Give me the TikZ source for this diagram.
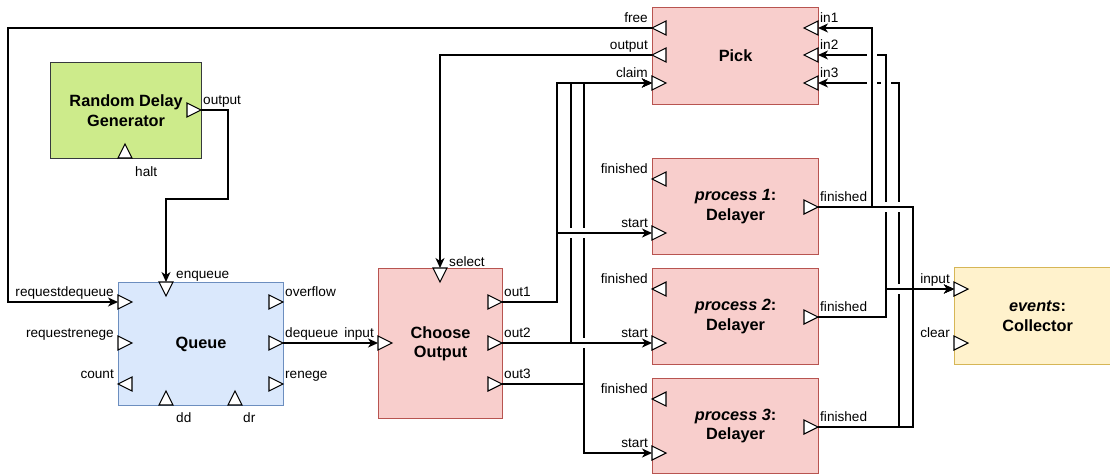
\documentclass[tikz,border=0pt]{standalone}
\usepackage{fontspec}
\setmainfont{Liberation Sans}
\usetikzlibrary{arrows.meta}
\definecolor{gfill}{HTML}{CDEB8B}
\definecolor{gdraw}{HTML}{36393D}
\definecolor{bfill}{HTML}{DAE8FC}
\definecolor{bdraw}{HTML}{6C8EBF}
\definecolor{rfill}{HTML}{F8CECC}
\definecolor{rdraw}{HTML}{B85450}
\definecolor{yfill}{HTML}{FFF2CC}
\definecolor{ydraw}{HTML}{D6B656}
\newcommand\tfont{\fontsize{16.3pt}{19.5pt}\selectfont\bfseries}
\newcommand\lfont{\fontsize{13.6pt}{16pt}\selectfont}
% port triangles
\newcommand\baseR[1]{\draw[port] (#1) ++(0,-7) -- ++(14,7) -- ++(-14,7) -- cycle;}
\newcommand\baseL[1]{\draw[port] (#1) ++(0,-7) -- ++(-14,7) -- ++(14,7) -- cycle;}
\newcommand\apexR[1]{\draw[port] (#1) -- ++(-14,-7) -- ++(0,14) -- cycle;}
\newcommand\apexL[1]{\draw[port] (#1) -- ++(14,-7) -- ++(0,14) -- cycle;}
\newcommand\baseD[1]{\draw[port] (#1) ++(-7,0) -- ++(7,14) -- ++(7,-14) -- cycle;}
\newcommand\baseU[1]{\draw[port] (#1) ++(-7,0) -- ++(7,-14) -- ++(7,14) -- cycle;}
% line jumps
\newcommand\gapV[2]{\fill[white] (#1-3,#2-5) rectangle (#1+3,#2+5); \draw[wire] (#1-6,#2) -- (#1+6,#2);}
\newcommand\gapH[2]{\fill[white] (#1-5,#2-3) rectangle (#1+5,#2+3); \draw[wire] (#1,#2-6) -- (#1,#2+6);}
\begin{document}
\begin{tikzpicture}[x=1pt,y=-1pt,
  blk/.style={rectangle, line width=1.2pt, inner sep=0pt, align=center, font=\tfont, anchor=north west},
  port/.style={draw=black, fill=white, line width=1.1pt, line join=miter},
  wire/.style={draw=black, line width=1.3pt},
  conn/.style={wire, -{Stealth[length=10pt,width=9pt,inset=3pt]}},
  lblE/.style={font=\lfont, inner sep=0pt, anchor=base east},
  lblW/.style={font=\lfont, inner sep=0pt, anchor=base west}]
\useasboundingbox (0,0) rectangle (1110,474);
\clip (0,0) rectangle (1110,474);
\fill[white] (0,0) rectangle (1110,474);

% blocks
\node[blk, fill=gfill, draw=gdraw, minimum width=151pt, minimum height=96pt] (rdg) at (50,62) {Random Delay\\Generator};
\node[blk, fill=bfill, draw=bdraw, minimum width=165pt, minimum height=123pt] (queue) at (118,282) {Queue};
\node[blk, fill=rfill, draw=rdraw, minimum width=124pt, minimum height=150pt] (choose) at (378,268) {Choose\\Output};
\node[blk, fill=rfill, draw=rdraw, minimum width=166pt, minimum height=97pt] (pick) at (652,7) {Pick};
\node[blk, fill=rfill, draw=rdraw, minimum width=166pt, minimum height=96pt] (d1) at (652,158) {{\itshape process 1}:\\Delayer};
\node[blk, fill=rfill, draw=rdraw, minimum width=166pt, minimum height=96pt] (d2) at (652,268) {{\itshape process 2}:\\Delayer};
\node[blk, fill=rfill, draw=rdraw, minimum width=166pt, minimum height=95pt] (d3) at (652,378) {{\itshape process 3}:\\Delayer};
\node[blk, fill=yfill, draw=ydraw, minimum width=166pt, minimum height=97pt] (coll) at (954,267) {{\itshape events}:\\Collector};

% port coordinates
\coordinate (rdg-out) at (201,110);
\coordinate (rdg-halt) at (125,158);
\coordinate (q-enq) at (166,282);
\coordinate (q-rd) at (118,302);
\coordinate (q-rr) at (118,343);
\coordinate (q-count) at (118,384);
\coordinate (q-ovf) at (283,302);
\coordinate (q-deq) at (283,343);
\coordinate (q-ren) at (283,384);
\coordinate (q-dd) at (166,405);
\coordinate (q-dr) at (235,405);
\coordinate (c-sel) at (440,268);
\coordinate (c-in) at (378,343);
\coordinate (c-o1) at (502,302);
\coordinate (c-o2) at (502,343);
\coordinate (c-o3) at (502,384);
\coordinate (p-free) at (652,28);
\coordinate (p-out) at (652,55);
\coordinate (p-claim) at (652,83);
\coordinate (p-in1) at (818,28);
\coordinate (p-in2) at (818,55);
\coordinate (p-in3) at (818,83);
\coordinate (d1-fin) at (652,179);
\coordinate (d1-start) at (652,233);
\coordinate (d1-fout) at (818,207);
\coordinate (d2-fin) at (652,289);
\coordinate (d2-start) at (652,343);
\coordinate (d2-fout) at (818,317);
\coordinate (d3-fin) at (652,399);
\coordinate (d3-start) at (652,453);
\coordinate (d3-fout) at (818,427);
\coordinate (col-in) at (954,289);
\coordinate (col-clear) at (954,343);

% connectors
\draw[conn] (rdg-out) -| (228,199) -| (q-enq);
\draw[conn] (p-free) -| (8,302) -- (q-rd);
\draw[conn] (q-deq) -- (c-in);
\draw[conn] (p-out) -| (c-sel);
\draw[conn] (c-o1) -| (557,83) -- (p-claim);
\draw[conn] (c-o1) -| (557,233) -- (d1-start);
\draw[conn] (c-o2) -| (571,83) -- (p-claim);
\draw[conn] (c-o2) -- (d2-start);
\draw[conn] (c-o3) -| (584,83) -- (p-claim);
\draw[conn] (c-o3) -| (584,453) -- (d3-start);
\draw[conn] (d1-fout) -| (872,28) -- (p-in1);
\draw[conn] (d1-fout) -| (913,289) -- (col-in);
\draw[conn] (d2-fout) -| (886,55) -- (p-in2);
\draw[conn] (d2-fout) -| (886,289) -- (col-in);
\draw[conn] (d3-fout) -| (899,83) -- (p-in3);
\draw[conn] (d3-fout) -| (913,289) -- (col-in);

% line jumps
\gapV{571}{233}
\gapV{584}{233}
\gapV{584}{343}
\gapH{872}{55}
\gapH{872}{83}
\gapH{886}{83}
\gapV{886}{207}
\gapV{899}{207}
\gapV{899}{289}

% ports
\apexR{rdg-out} \baseU{rdg-halt}
\baseD{q-enq} \baseR{q-rd} \baseR{q-rr} \apexL{q-count}
\apexR{q-ovf} \apexR{q-deq} \apexR{q-ren} \baseU{q-dd} \baseU{q-dr}
\baseD{c-sel} \baseR{c-in} \apexR{c-o1} \apexR{c-o2} \apexR{c-o3}
\apexL{p-free} \apexL{p-out} \baseR{p-claim} \baseL{p-in1} \baseL{p-in2} \baseL{p-in3}
\apexL{d1-fin} \baseR{d1-start} \apexR{d1-fout}
\apexL{d2-fin} \baseR{d2-start} \apexR{d2-fout}
\apexL{d3-fin} \baseR{d3-start} \apexR{d3-fout}
\baseR{col-in} \baseR{col-clear}

% labels
\node[lblW] (l-rdgout) at (203,104) {output};
\node[lblW] (l-halt) at (135,176) {halt};
\node[lblW] (l-enq) at (176,278) {enqueue};
\node[lblE] (l-rd) at (114,296) {requestdequeue};
\node[lblE] (l-rr) at (114,337) {requestrenege};
\node[lblE] (l-count) at (114,378) {count};
\node[lblW] (l-ovf) at (285,296) {overflow};
\node[lblW] (l-deq) at (285,337) {dequeue};
\node[lblW] (l-ren) at (285,378) {renege};
\node[lblW] (l-dd) at (176,422) {dd};
\node[lblW] (l-dr) at (243,422) {dr};
\node[lblW] (l-sel) at (449,266) {select};
\node[lblE] (l-cin) at (374,337) {input};
\node[lblW] (l-o1) at (504,296) {out1};
\node[lblW] (l-o2) at (504,337) {out2};
\node[lblW] (l-o3) at (504,378) {out3};
\node[lblE] (l-free) at (648,22) {free};
\node[lblE] (l-pout) at (648,49) {output};
\node[lblE] (l-claim) at (648,77) {claim};
\node[lblW] (l-in1) at (820,22) {in1};
\node[lblW] (l-in2) at (820,49) {in2};
\node[lblW] (l-in3) at (820,77) {in3};
\node[lblE] (l-d1fin) at (648,173) {finished};
\node[lblE] (l-d1st) at (648,227) {start};
\node[lblW] (l-d1fo) at (820,201) {finished};
\node[lblE] (l-d2fin) at (648,283) {finished};
\node[lblE] (l-d2st) at (648,337) {start};
\node[lblW] (l-d2fo) at (820,311) {finished};
\node[lblE] (l-d3fin) at (648,393) {finished};
\node[lblE] (l-d3st) at (648,447) {start};
\node[lblW] (l-d3fo) at (820,421) {finished};
\node[lblE] (l-colin) at (950,283) {input};
\node[lblE] (l-colcl) at (950,337) {clear};
\end{tikzpicture}
\end{document}
